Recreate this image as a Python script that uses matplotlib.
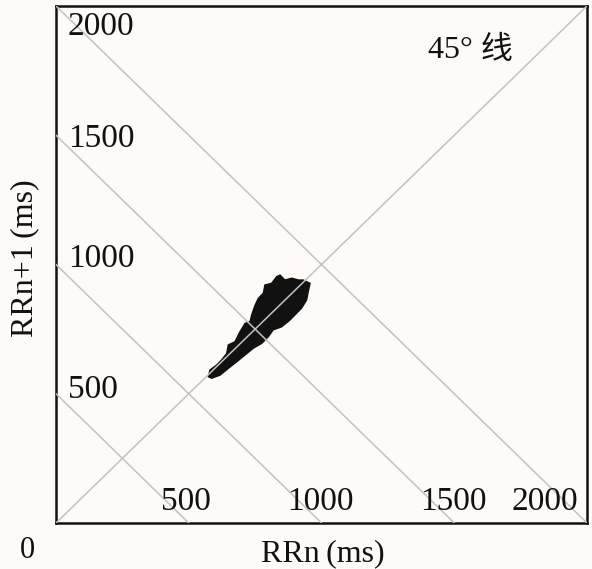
import matplotlib.pyplot as plt

# Poincaré plot: outline of the RR scatter cloud (RRn, RRn+1 in ms)
cloud_rrn = [574, 580, 605, 624, 643, 649, 674, 693, 712, 731, 737, 750, 762, 781,
             787, 812, 831, 844, 862, 888, 913, 931, 957, 950, 944, 925, 900, 881,
             850, 818, 800, 775, 743, 712, 681, 649, 618, 586]
cloud_rrn1 = [566, 592, 611, 631, 656, 689, 701, 740, 772, 779, 805, 843, 869, 889,
              921, 927, 953, 959, 940, 947, 940, 940, 927, 895, 863, 831, 805, 785,
              759, 747, 721, 695, 676, 650, 624, 598, 572, 560]

tick_values = [500, 1000, 1500, 2000]
tick_labels = ['500', '1000', '1500', '2000']
anti_diag = [500, 1000, 1500, 2000]   # lines RRn + RRn+1 = const

bg = '#fdfaf7'
line_col = '#c2c2c2'
ink = '#111111'
serif = ['Liberation Serif', 'Noto Sans CJK SC']

fig = plt.figure(figsize=(5.92, 5.69), dpi=100, facecolor=bg)
ax = fig.add_axes([56 / 592, 1 - 523 / 569, 531 / 592, 517 / 569], facecolor=bg)

# the cloud
ax.fill(cloud_rrn, cloud_rrn1, color=ink, lw=1.0, ec=ink, zorder=2)

# 45 degree line and the perpendicular guide lines
ax.plot([0, 2000], [0, 2000], color=line_col, lw=1.1, zorder=3)
for s in anti_diag:
    ax.plot([0, s], [s, 0], color=line_col, lw=1.1, zorder=3)

ax.set_xlim(0, 2000)
ax.set_ylim(0, 2000)
ax.set_xticks([])
ax.set_yticks([])
for sp in ax.spines.values():
    sp.set_linewidth(1.8)
    sp.set_color(ink)

# tick labels drawn inside the frame
x_label_pos = [490, 994, 1495, 1842]
y_label_pos = [484, 990, 1455, 1888]
for v, lab, xp in zip(tick_values, tick_labels, x_label_pos):
    ax.text(xp, 50, lab, ha='center', va='baseline', fontsize=24,
            family=serif, color=ink, zorder=4)
for v, lab, yp in zip(tick_values, tick_labels, y_label_pos):
    ax.text(45, yp, lab, ha='left', va='baseline', fontsize=24,
            family=serif, color=ink, zorder=4)

ax.text(-109, -105, '0', ha='center', va='center', fontsize=22,
        family=serif, color=ink, clip_on=False)
ax.text(1400, 1830, '45° 线', ha='left', va='center', fontsize=23,
        family=serif, color=ink)

fig.text(323 / 592, 1 - 554 / 569, 'RRn\u2009(ms)', ha='center', va='center',
         fontsize=23, family=serif, color=ink)
fig.text(25 / 592, 1 - 258 / 569, 'RRn+1\u2009(ms)', ha='center', va='center',
         rotation=90, fontsize=23, family=serif, color=ink)

fig.savefig('out.png', dpi=100, facecolor=bg)
